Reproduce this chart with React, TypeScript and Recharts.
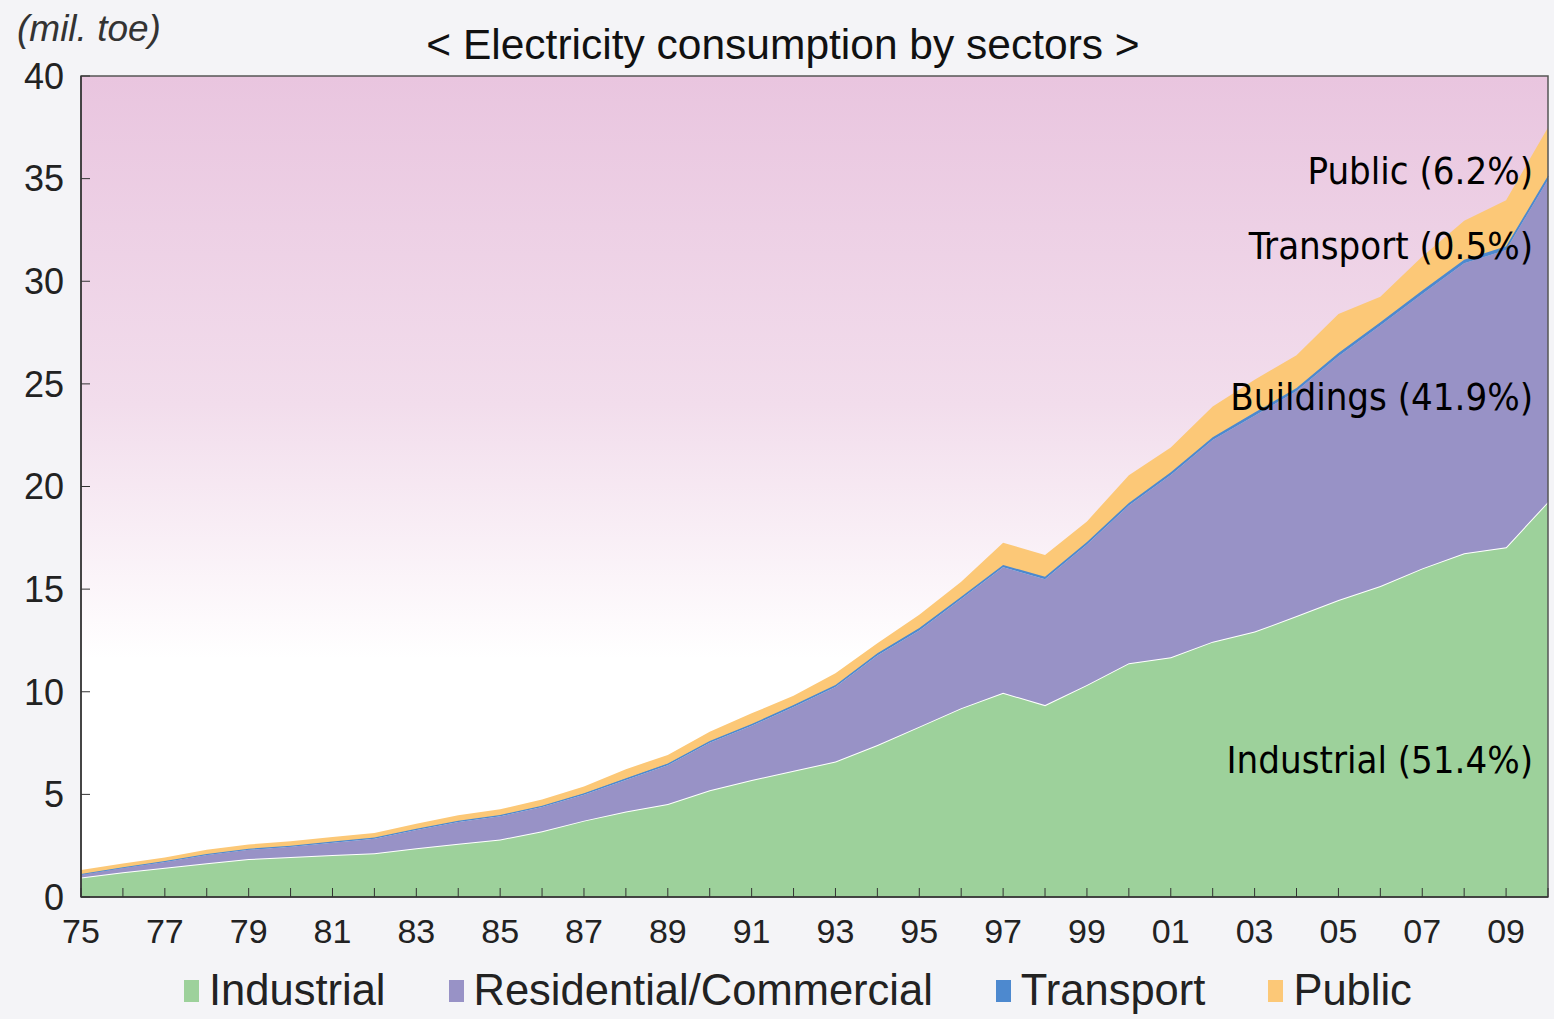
import { Area, AreaChart, CartesianGrid, ReferenceArea, XAxis, YAxis } from 'recharts';

// Electricity consumption by sector, mil. toe, 1975-2010
const YEARS = [
  1975, 1976, 1977, 1978, 1979, 1980, 1981, 1982, 1983, 1984, 1985, 1986,
  1987, 1988, 1989, 1990, 1991, 1992, 1993, 1994, 1995, 1996, 1997, 1998,
  1999, 2000, 2001, 2002, 2003, 2004, 2005, 2006, 2007, 2008, 2009, 2010,
];
const INDUSTRIAL = [
  0.95, 1.2, 1.42, 1.65, 1.85, 1.95, 2.05, 2.13, 2.37, 2.6, 2.8, 3.2,
  3.72, 4.16, 4.53, 5.2, 5.7, 6.15, 6.6, 7.4, 8.3, 9.2, 9.95, 9.35,
  10.33, 11.39, 11.68, 12.44, 12.93, 13.69, 14.47, 15.15, 16.01, 16.75, 17.04, 19.25,
];
const RESIDENTIAL = [
  0.13, 0.21, 0.28, 0.4, 0.45, 0.5, 0.59, 0.71, 0.89, 1.06, 1.13, 1.18,
  1.26, 1.54, 1.89, 2.32, 2.64, 3.11, 3.63, 4.37, 4.69, 5.32, 6.11, 6.13,
  6.84, 7.68, 8.88, 9.82, 10.52, 10.96, 11.87, 12.69, 13.37, 14.13, 14.48, 15.7,
];
const TRANSPORT = [
  0.04, 0.04, 0.05, 0.05, 0.05, 0.05, 0.06, 0.06, 0.06, 0.06, 0.07, 0.07,
  0.07, 0.08, 0.08, 0.08, 0.09, 0.09, 0.1, 0.1, 0.11, 0.11, 0.12, 0.12,
  0.13, 0.13, 0.14, 0.14, 0.15, 0.15, 0.16, 0.16, 0.17, 0.17, 0.18, 0.19,
];
const PUBLIC = [
  0.2, 0.18, 0.17, 0.2, 0.21, 0.22, 0.22, 0.22, 0.25, 0.26, 0.27, 0.3,
  0.33, 0.45, 0.42, 0.45, 0.52, 0.45, 0.57, 0.49, 0.65, 0.73, 1.08, 1.06,
  1.0, 1.35, 1.2, 1.5, 1.6, 1.6, 1.9, 1.25, 1.65, 1.9, 2.25, 2.35,
];
const LABELED_YEARS = [1975, 1977, 1979, 1981, 1983, 1985, 1987, 1989, 1991, 1993, 1995, 1997, 1999, 2001, 2003, 2005, 2007, 2009];
const Y_TICKS = [0, 5, 10, 15, 20, 25, 30, 35, 40];

const SERIES = [
  { key: 'industrial', name: 'Industrial', color: '#9dd19b', stroke: '#ffffff', width: 2 },
  { key: 'residential', name: 'Residential/Commercial', color: '#9892c6', stroke: 'none', width: 0 },
  { key: 'transport', name: 'Transport', color: '#4d89cf', stroke: '#4d89cf', width: 1.5 },
  { key: 'public', name: 'Public', color: '#fcc877', stroke: 'none', width: 0 },
];

const NOTES = [
  { text: 'Public (6.2%)', top: 152 },
  { text: 'Transport (0.5%)', top: 227 },
  { text: 'Buildings (41.9%)', top: 378 },
  { text: 'Industrial (51.4%)', top: 741 },
];

const data = YEARS.map((year, i) => ({
  year,
  industrial: INDUSTRIAL[i],
  residential: RESIDENTIAL[i],
  transport: TRANSPORT[i],
  public: PUBLIC[i],
}));

const W = 1554;
const H = 1019;
const SANS = '"Liberation Sans", Arial, sans-serif';

export default function App() {
  return (
    <div style={{ position: 'absolute', left: 0, top: 0, width: W, height: H, background: '#f4f4f7', fontFamily: SANS, overflow: 'hidden' }}>
      <div style={{ position: 'absolute', left: 17, top: 10, fontSize: 37, lineHeight: '37px', fontStyle: 'italic', color: '#333' }}>(mil. toe)</div>
      <div style={{ position: 'absolute', left: 0, top: 24, width: 1566, textAlign: 'center', fontSize: 42.5, lineHeight: '42px', color: '#111' }}>
        &lt; Electricity consumption by sectors &gt;
      </div>

      <div style={{ position: 'absolute', left: 0, top: 0 }}>
        <AreaChart width={W} height={960} data={data} margin={{ top: 76, right: 6, left: 0, bottom: 13 }}>
          <defs>
            <linearGradient id="plotBg" x1="0" y1="0" x2="0" y2="1">
              <stop offset="0%" stopColor="#e9c5df" />
              <stop offset="40%" stopColor="#f2ddec" />
              <stop offset="71%" stopColor="#ffffff" />
              <stop offset="100%" stopColor="#ffffff" />
            </linearGradient>
          </defs>
          <CartesianGrid horizontal={false} vertical={false} fill="url(#plotBg)" />
          <XAxis
            type="number" dataKey="year" domain={[1975, 2010]} ticks={YEARS} interval={0}
            tickFormatter={(v: number) => (LABELED_YEARS.includes(v) ? String(v).slice(2) : '')}
            tickSize={-9} tickMargin={31} height={50}
            axisLine={{ stroke: '#333', strokeWidth: 1.5 }} tickLine={{ stroke: '#333' }}
            tick={{ fontSize: 34, fill: '#222', fontFamily: SANS }}
          />
          <YAxis
            domain={[0, 40]} ticks={Y_TICKS} interval={0} width={81}
            tickSize={-9} tickMargin={26}
            axisLine={{ stroke: '#333', strokeWidth: 1.5 }} tickLine={{ stroke: '#333' }}
            tick={{ fontSize: 36, fill: '#222', fontFamily: SANS }}
          />
          {SERIES.map((s) => (
            <Area
              key={s.key} type="linear" dataKey={s.key} name={s.name} stackId="1"
              fill={s.color} fillOpacity={1} stroke={s.stroke} strokeWidth={s.width}
              dot={false} activeDot={false} isAnimationActive={false}
            />
          ))}
          <ReferenceArea x1={1975} x2={2010} y1={0} y2={40} fill="none" fillOpacity={0} stroke="#555" strokeWidth={1.5} ifOverflow="visible" />
        </AreaChart>
      </div>

      {NOTES.map((n) => (
        <div key={n.text} style={{
          position: 'absolute', right: 21, top: n.top, fontSize: 38, lineHeight: '38px', color: '#000',
          fontFamily: '"DejaVu Sans Condensed", "DejaVu Sans", sans-serif', fontStretch: 'condensed', whiteSpace: 'nowrap',
        }}>{n.text}</div>
      ))}

      <div style={{ position: 'absolute', left: 184, top: 969, display: 'flex', alignItems: 'center', gap: 63, fontSize: 43.5, lineHeight: '43px', color: '#222' }}>
        {SERIES.map((s) => (
          <div key={s.key} style={{ display: 'flex', alignItems: 'center' }}>
            <span style={{ display: 'inline-block', width: 15, height: 22, background: s.color, marginRight: 10 }} />
            <span>{s.name}</span>
          </div>
        ))}
      </div>
    </div>
  );
}
